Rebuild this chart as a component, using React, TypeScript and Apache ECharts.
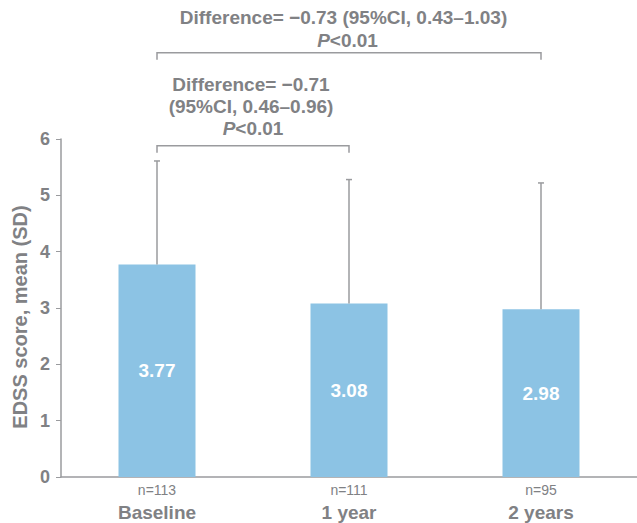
import React, { useEffect, useRef } from "react";
import * as echarts from "echarts";

const categories = ["Baseline", "1 year", "2 years"];
const nLabels = ["n=113", "n=111", "n=95"];
const means = [3.77, 3.08, 2.98];
const sds = [1.84, 2.2, 2.24];
const yTicks = [0, 1, 2, 3, 4, 5, 6];
// brackets: [fromIndex, toIndex, yValue]
const brackets = [
  [0, 1, 5.88],
  [0, 2, 7.53],
];
const annotationTop = ["Difference= \u22120.73 (95%CI, 0.43\u20131.03)", "<0.01"];
const annotationLow = ["Difference= \u22120.71", "(95%CI, 0.46\u20130.96)", "<0.01"];
const yAxisName = "EDSS score, mean (SD)";

const FONT = "'Liberation Sans', Arial, Helvetica, sans-serif";
const GRAY = "#808184";
const LINE = "#9a9b9e";
const BAR = "#8CC3E4";

export default function App() {
  const ref = useRef<HTMLDivElement>(null);
  useEffect(() => {
    if (!ref.current) return;
    const chart = echarts.init(ref.current, null, { renderer: "svg" });
    const tb = { fontFamily: FONT, fontWeight: "bold", fontSize: 19, fill: GRAY };
    const pText = (x: number, y: number, rest: string) => ({
      type: "text",
      x,
      y,
      style: {
        text: `{i|P}{r|${rest}}`,
        align: "center",
        verticalAlign: "middle",
        rich: {
          i: { ...tb, fontStyle: "italic" },
          r: { ...tb },
        },
      },
    });
    const plain = (x: number, y: number, text: string) => ({
      type: "text",
      x,
      y,
      style: { ...tb, text, align: "center", verticalAlign: "middle" },
    });
    chart.setOption({
      animation: false,
      grid: { left: 61, top: 139, bottom: 46, width: 579 },
      xAxis: {
        type: "category",
        data: categories,
        axisTick: { show: false },
        axisLine: { lineStyle: { color: LINE, width: 1.5 } },
        axisLabel: {
          margin: 4,
          interval: 0,
          formatter: (v: string, i: number) => `{n|${nLabels[i]}}\n{c|${v}}`,
          rich: {
            n: { fontFamily: FONT, fontSize: 14, color: GRAY, lineHeight: 18 },
            c: { fontFamily: FONT, fontSize: 19, fontWeight: "bold", color: GRAY, lineHeight: 26 },
          },
        },
      },
      yAxis: {
        type: "value",
        min: yTicks[0],
        max: yTicks[yTicks.length - 1],
        interval: 1,
        splitLine: { show: false },
        axisLine: { show: true, lineStyle: { color: LINE, width: 1.5 } },
        axisTick: { show: true, length: 5, lineStyle: { color: LINE } },
        axisLabel: {
          margin: 11,
          fontFamily: FONT,
          fontSize: 18,
          fontWeight: "bold",
          color: GRAY,
        },
      },
      series: [
        {
          type: "bar",
          data: means,
          barWidth: 77,
          itemStyle: { color: BAR },
          label: {
            show: true,
            position: "inside",
            formatter: (p: any) => p.value.toFixed(2),
            fontFamily: FONT,
            fontSize: 19,
            fontWeight: "bold",
            color: "#ffffff",
          },
          z: 2,
        },
        {
          type: "custom",
          z: 3,
          data: means.map((m, i) => [i, m, m + sds[i]]),
          renderItem: (params: any, api: any) => {
            const x = api.coord([api.value(0), 0])[0];
            const y0 = api.coord([api.value(0), api.value(1)])[1];
            const y1 = api.coord([api.value(0), api.value(2)])[1];
            const style = { stroke: LINE, lineWidth: 1.5 };
            return {
              type: "group",
              children: [
                { type: "line", shape: { x1: x, y1: y0, x2: x, y2: y1 }, style },
                { type: "line", shape: { x1: x - 3, y1: y1, x2: x + 3, y2: y1 }, style },
              ],
            };
          },
        },
        {
          type: "custom",
          z: 3,
          clip: false,
          data: brackets,
          renderItem: (params: any, api: any) => {
            const xa = api.coord([api.value(0), 0])[0];
            const xb = api.coord([api.value(1), 0])[0];
            const y = api.coord([0, api.value(2)])[1];
            return {
              type: "polyline",
              shape: { points: [[xa, y + 7], [xa, y], [xb, y], [xb, y + 7]] },
              style: { stroke: LINE, lineWidth: 1.5, fill: "none" },
            };
          },
        },
      ],
      graphic: [
        plain(343.5, 17, annotationTop[0]),
        pText(347.5, 40, annotationTop[1]),
        plain(251, 84, annotationLow[0]),
        plain(251, 106, annotationLow[1]),
        pText(253, 128, annotationLow[2]),
        {
          type: "text",
          x: 20,
          y: 317,
          rotation: Math.PI / 2,
          style: {
            text: yAxisName,
            fontFamily: FONT,
            fontWeight: "bold",
            fontSize: 20,
            fill: GRAY,
            align: "center",
            verticalAlign: "middle",
          },
        },
      ],
    });
    return () => chart.dispose();
  }, []);
  return <div ref={ref} style={{ width: 637, height: 523, position: "absolute", left: 0, top: 0 }} />;
}
